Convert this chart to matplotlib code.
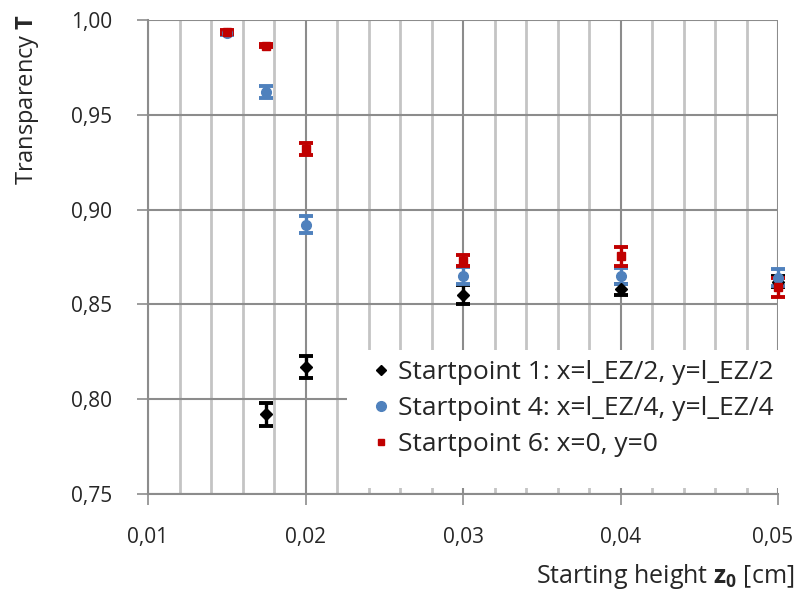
import matplotlib
matplotlib.use("Agg")
import matplotlib.pyplot as plt
from matplotlib.ticker import MultipleLocator, FuncFormatter
from matplotlib.patches import Rectangle

# Data
x1 = [0.0175, 0.02, 0.03, 0.04, 0.05]
t1 = [0.792, 0.817, 0.855, 0.858, 0.862]
e1 = [0.006, 0.006, 0.005, 0.003, 0.003]

x4 = [0.015, 0.0175, 0.02, 0.03, 0.04, 0.05]
t4 = [0.993, 0.962, 0.892, 0.865, 0.865, 0.864]
e4 = [0.001, 0.003, 0.0045, 0.0045, 0.004, 0.0045]

x6 = [0.015, 0.0175, 0.02, 0.03, 0.04, 0.05]
t6 = [0.9935, 0.9865, 0.932, 0.873, 0.8755, 0.859]
e6 = [0.001, 0.001, 0.003, 0.003, 0.005, 0.005]

labels = ["Startpoint 1: x=l_EZ/2, y=l_EZ/2",
          "Startpoint 4: x=l_EZ/4, y=l_EZ/4",
          "Startpoint 6: x=0, y=0"]

XMIN, XMAX = 0.01, 0.05

plt.rcParams['font.family'] = ['Open Sans', 'DejaVu Sans']
plt.rcParams['mathtext.fontset'] = 'custom'
plt.rcParams['mathtext.rm'] = 'Open Sans'
plt.rcParams['mathtext.bf'] = 'Open Sans:bold'
txtc = '#262626'

W, H = 796, 590
fig = plt.figure(figsize=(W/100, H/100), dpi=100)
ax = fig.add_axes([148/W, 1-494/H, (778-148)/W, (494-20)/H])

ax.set_xlim(XMIN, XMAX)
ax.set_ylim(0.75, 1.0)
ax.xaxis.set_major_locator(MultipleLocator(0.01))
ax.xaxis.set_minor_locator(MultipleLocator(0.002))
ax.yaxis.set_major_locator(MultipleLocator(0.05))


def fmt(v):
    return f"{v:.2f}".replace('.', ',')


# last x label is drawn separately (right-aligned so it stays inside the figure)
ax.xaxis.set_major_formatter(FuncFormatter(lambda v, p: '' if abs(v - XMAX) < 1e-9 else fmt(v)))
ax.yaxis.set_major_formatter(FuncFormatter(lambda v, p: fmt(v)))

ax.grid(which='minor', axis='x', color='#c4c4c4', lw=2.0, zorder=0)
ax.grid(which='major', axis='x', color='#8c8c8c', lw=1.5, zorder=0)
ax.grid(which='major', axis='y', color='#8c8c8c', lw=1.5, zorder=0)
ax.set_axisbelow(True)

for s in ['top', 'right']:
    ax.spines[s].set_visible(False)
for s in ['left', 'bottom']:
    ax.spines[s].set_color('#8c8c8c')
    ax.spines[s].set_linewidth(1.5)

ax.tick_params(which='major', direction='out', length=8, width=1.2, color='#8c8c8c',
               labelsize=15, labelcolor=txtc)
ax.tick_params(axis='y', pad=18)
ax.tick_params(axis='x', pad=16)
ax.tick_params(which='minor', length=0)

ax.annotate(fmt(XMAX), xy=(XMAX, 0), xycoords=ax.get_xaxis_transform(),
            xytext=(11, -24), textcoords='offset points', ha='right', va='top',
            fontsize=15, color=txtc, annotation_clip=False)

# white background behind legend (hides gridlines like the original)
fig.add_artist(Rectangle((347/W, 1-488/H), (W-347)/W, (488-350)/H,
                         transform=fig.transFigure, facecolor='white',
                         edgecolor='none', zorder=1.5))

common = dict(ls='none', elinewidth=2.4, capsize=5, capthick=2.8, zorder=3, clip_on=False)
e_1 = ax.errorbar(x1, t1, yerr=e1, fmt='D', color='black', ms=6, label=labels[0], **common)
e_4 = ax.errorbar(x4, t4, yerr=e4, fmt='o', color='#4f81bd', ms=7, label=labels[1], **common)
e_6 = ax.errorbar(x6, t6, yerr=e6, fmt='s', color='#c00000', ms=5.5, label=labels[2], **common)
for eb in (e_1, e_4, e_6):
    for a in eb.get_children():
        a.set_clip_on(False)

handles = [
    plt.Line2D([], [], ls='none', marker='D', color='black', ms=5),
    plt.Line2D([], [], ls='none', marker='o', color='#4f81bd', ms=7),
    plt.Line2D([], [], ls='none', marker='s', color='#c00000', ms=5),
]
leg = fig.legend(handles, labels, loc='upper left',
                 bbox_to_anchor=(372/W, 1-360/H), frameon=False,
                 fontsize=19, handlelength=0.7,
                 handletextpad=0.28, labelspacing=0.42, borderpad=0,
                 borderaxespad=0)
leg.set_zorder(5)
for t in leg.get_texts():
    t.set_color(txtc)

fig.text(14/W, 1-14/H, r"Transparency $\mathbf{T}$", rotation=90,
         ha='left', va='top', fontsize=17, color=txtc)
fig.text(794/W, 1-583/H, r"Starting height $\mathbf{z_0}$ [cm]",
         ha='right', va='baseline', fontsize=18, color=txtc)

fig.savefig('out.png', dpi=100)
